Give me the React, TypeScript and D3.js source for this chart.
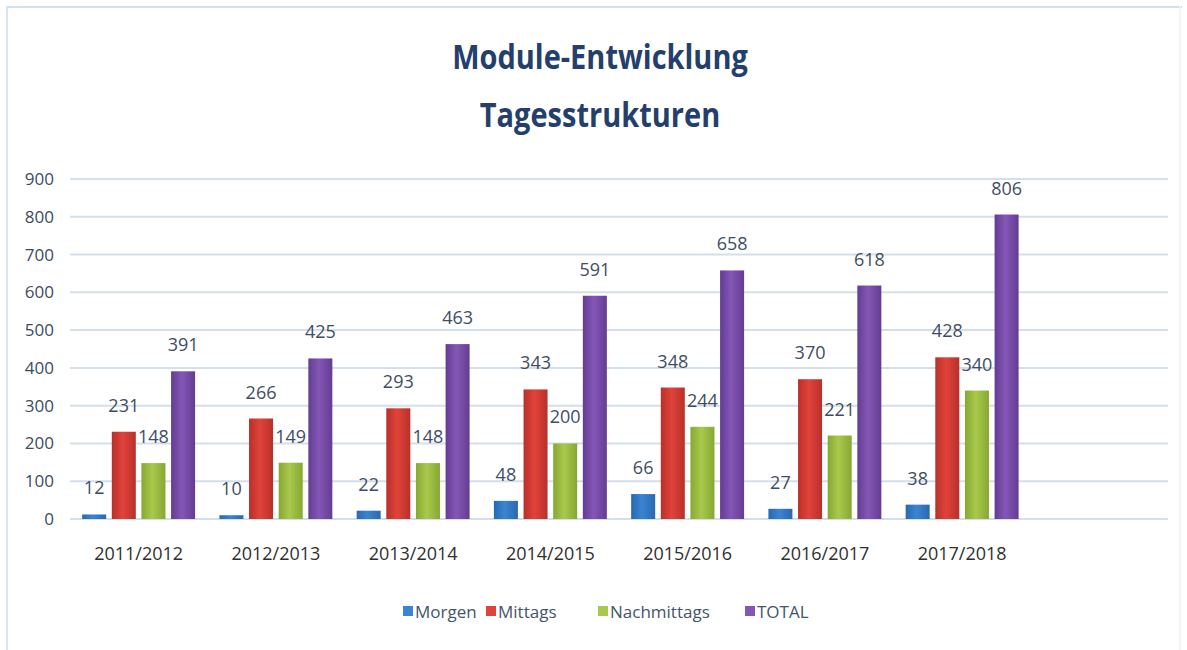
import React from "react"
import * as d3 from "d3"

const categories = ["2011/2012", "2012/2013", "2013/2014", "2014/2015", "2015/2016", "2016/2017", "2017/2018"]
const seriesNames = ["Morgen", "Mittags", "Nachmittags", "TOTAL"]
const morgen = [12, 10, 22, 48, 66, 27, 38]
const mittags = [231, 266, 293, 343, 348, 370, 428]
const nachmittags = [148, 149, 148, 200, 244, 221, 340]
const total = [391, 425, 463, 591, 658, 618, 806]
const yTicks = [0, 100, 200, 300, 400, 500, 600, 700, 800, 900]

const seriesValues = [morgen, mittags, nachmittags, total]
// [edge, middle] for the slight bar shading
const seriesColors = [
  ["#2a68b0", "#3b84d2"],
  ["#b8302a", "#e0433a"],
  ["#86a832", "#a9c94c"],
  ["#643c92", "#8457b6"],
]

const W = 1187
const H = 650
const margin = { top: 179, left: 70, right: 19, bottom: 131 }

const font = "'Liberation Sans Narrow', 'Open Sans', sans-serif"

export default function App() {
  const plotBottom = H - margin.bottom
  // an empty 8th slot, as in the original chart
  const x0 = d3
    .scaleBand<string>()
    .domain([...categories, ""])
    .range([margin.left, W - margin.right])
    .paddingInner(0)
  const x1 = d3
    .scaleBand<string>()
    .domain(seriesNames)
    .range([0, x0.bandwidth()])
    .paddingInner(0.19)
    .paddingOuter(0.41)
  const y = d3.scaleLinear().domain([0, 900]).range([plotBottom, margin.top])

  const legendX = [403, 486, 598, 745]

  return (
    <svg
      width={W}
      height={H}
      style={{ position: "absolute", left: 0, top: 0, background: "#fff" }}
    >
      <defs>
        {seriesColors.map((c, i) => (
          <linearGradient key={i} id={`g${i}`} x1="0" x2="1" y1="0" y2="0">
            <stop offset="0%" stopColor={c[0]} />
            <stop offset="45%" stopColor={c[1]} />
            <stop offset="100%" stopColor={c[0]} />
          </linearGradient>
        ))}
      </defs>

      {/* frame */}
      <line x1={6} x2={1182} y1={7} y2={7} stroke="#cfe0ef" strokeWidth={2} />
      <line x1={7} x2={7} y1={6} y2={H} stroke="#d9e6f2" strokeWidth={2} />
      <line x1={1180} x2={1180} y1={6} y2={H} stroke="#eef3f8" strokeWidth={1.5} />

      {/* title (stretched a bit to mimic the narrow original face) */}
      <text
        transform="translate(600,69) scale(1,1.18)"
        textAnchor="middle"
        fontFamily={font}
        fontWeight="bold"
        fontSize={29}
        fill="#243f6b"
      >
        Module-Entwicklung
      </text>
      <text
        transform="translate(600,127) scale(1,1.18)"
        textAnchor="middle"
        fontFamily={font}
        fontWeight="bold"
        fontSize={29}
        fill="#243f6b"
      >
        Tagesstrukturen
      </text>

      {/* grid + y labels */}
      {yTicks.map((t) => (
        <g key={t}>
          <line
            x1={margin.left}
            x2={W - margin.right}
            y1={y(t)}
            y2={y(t)}
            stroke="#d3dfea"
            strokeWidth={2}
          />
          <text
            x={54}
            y={y(t) + 6}
            textAnchor="end"
            fontFamily={font}
            fontSize={17}
            fill="#3e4b5c"
          >
            {t}
          </text>
        </g>
      ))}

      {/* bars */}
      {categories.map((cat, ci) => (
        <g key={cat} transform={`translate(${x0(cat)},0)`}>
          {seriesNames.map((s, si) => {
            const v = seriesValues[si][ci]
            const bx = x1(s) as number
            return (
              <g key={s}>
                <rect
                  x={bx}
                  y={y(v)}
                  width={x1.bandwidth()}
                  height={plotBottom - y(v)}
                  fill={`url(#g${si})`}
                />
                <text
                  x={bx + x1.bandwidth() / 2}
                  y={y(v) - 20}
                  textAnchor="middle"
                  fontFamily={font}
                  fontSize={18}
                  fill="#3f4d63"
                >
                  {v}
                </text>
              </g>
            )
          })}
          <text
            x={x0.bandwidth() / 2}
            y={560}
            textAnchor="middle"
            fontFamily={font}
            fontSize={18}
            fill="#2f2f2f"
          >
            {cat}
          </text>
        </g>
      ))}

      {/* legend */}
      {seriesNames.map((s, i) => (
        <g key={s} transform={`translate(${legendX[i]},0)`}>
          <rect x={0} y={606} width={10} height={10} fill={seriesColors[i][1]} />
          <text x={12} y={618} fontFamily={font} fontSize={17} fill="#44546a">
            {s}
          </text>
        </g>
      ))}
    </svg>
  )
}
